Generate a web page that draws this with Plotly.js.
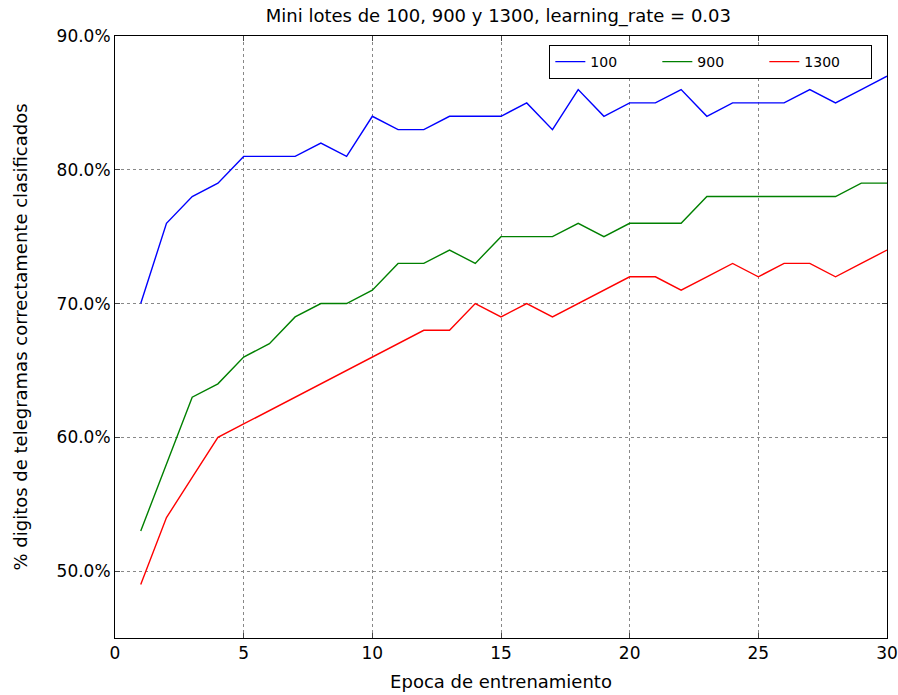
<!DOCTYPE html>
<html>
<head>
<meta charset="utf-8">
<script src="https://cdn.plot.ly/plotly-3.0.1.min.js"></script>
<style>html,body{margin:0;padding:0;background:#fff;}#chart{width:898px;height:695px;}</style>
</head>
<body>
<div id="chart"></div>
<script>
const epochs = [1,2,3,4,5,6,7,8,9,10,11,12,13,14,15,16,17,18,19,20,21,22,23,24,25,26,27,28,29,30];
const acc100  = [70,76,78,79,81,81,81,82,81,84,83,83,84,84,84,85,83,86,84,85,85,86,84,85,85,85,86,85,86,87];
const acc900  = [53,58,63,64,66,67,69,70,70,71,73,73,74,73,75,75,75,76,75,76,76,76,78,78,78,78,78,78,79,79];
const acc1300 = [49,54,57,60,61,62,63,64,65,66,67,68,68,70,69,70,69,70,71,72,72,71,72,73,72,73,73,72,73,74];
const seriesNames = ['100','900','1300'];
const colors = ['#0000ff','#008000','#ff0000'];

const data = [acc100, acc900, acc1300].map((vals, i) => ({
  x: epochs,
  y: vals.map(v => v / 100),
  type: 'scatter',
  mode: 'lines',
  name: seriesNames[i],
  line: {color: colors[i], width: 1.4}
}));

const font = {family: 'DejaVu Sans, sans-serif', color: '#000'};
const layout = {
  width: 898, height: 695,
  margin: {l: 115, r: 11, t: 36, b: 57},
  paper_bgcolor: '#fff', plot_bgcolor: '#fff',
  font: Object.assign({size: 17}, font),
  title: {text: 'Mini lotes de 100, 900 y 1300, learning_rate = 0.03', font: Object.assign({size: 18}, font), x: 0.555, xanchor: 'center', y: 0.987, yanchor: 'top'},
  xaxis: {
    range: [0, 30], tickvals: [0,5,10,15,20,25,30], ticks: 'inside', ticklen: 5,
    showline: true, linecolor: '#000', linewidth: 1, mirror: 'ticks',
    showgrid: true, gridcolor: '#888', griddash: 'dot', gridwidth: 1,
    zeroline: false, tickfont: {size: 17},
    title: {text: 'Epoca de entrenamiento', font: {size: 18}, standoff: 12}
  },
  yaxis: {
    range: [0.45, 0.90], tickvals: [0.5,0.6,0.7,0.8,0.9], tickformat: '.1%', ticks: 'inside', ticklen: 5,
    showline: true, linecolor: '#000', linewidth: 1, mirror: 'ticks',
    showgrid: true, gridcolor: '#888', griddash: 'dot', gridwidth: 1,
    zeroline: false, tickfont: {size: 17},
    title: {text: '% digitos de telegramas correctamente clasificados', font: {size: 18}, standoff: 24}
  },
  showlegend: true,
  legend: {
    orientation: 'h', x: 0.981, xanchor: 'right', y: 0.985, yanchor: 'top',
    bordercolor: '#000', borderwidth: 1, bgcolor: '#fff',
    font: {size: 14}, itemwidth: 30, entrywidth: 62, traceorder: 'normal'
  }
};
Plotly.newPlot('chart', data, layout, {displayModeBar: false, staticPlot: true});
</script>
</body>
</html>
